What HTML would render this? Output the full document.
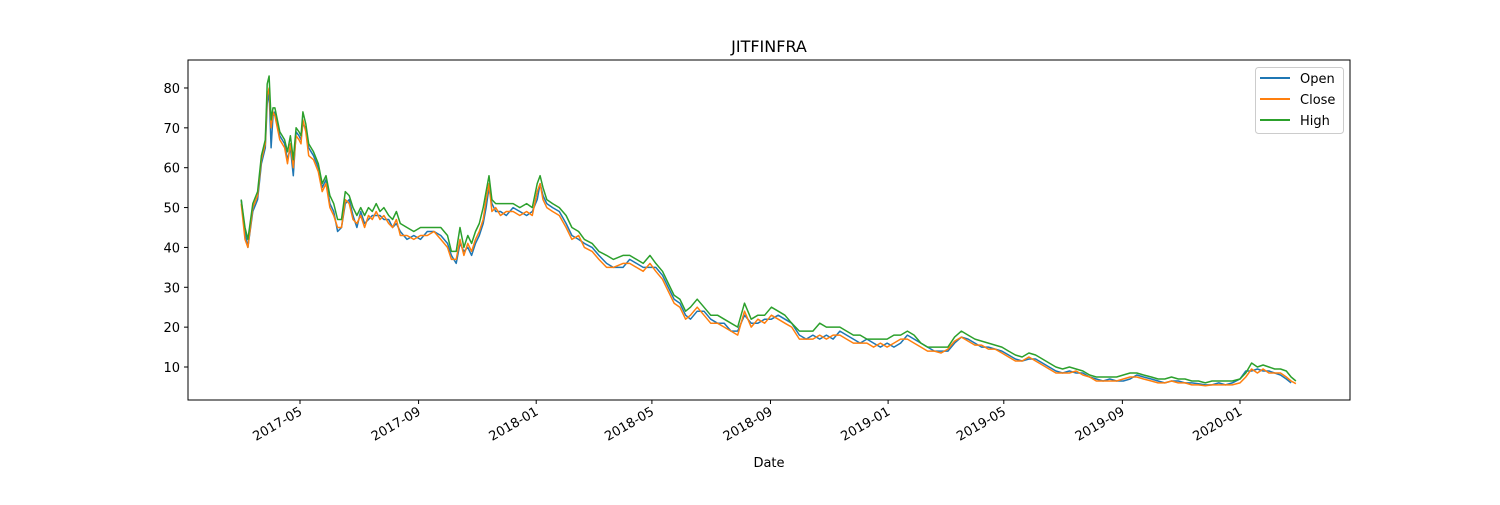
<!DOCTYPE html>
<html><head><meta charset="utf-8"><style>
body{margin:0;background:#fff}
svg text{font-family:"DejaVu Sans","Liberation Sans",sans-serif;fill:#000}
</style></head><body>
<svg id="chart" width="1500" height="500" xmlns="http://www.w3.org/2000/svg">
<rect width="1500" height="500" fill="#fff"/>
<text x="769" y="52" font-size="16" text-anchor="middle">JITFINFRA</text>
<g id="plot"></g>
<rect x="188" y="60" width="1162" height="340" fill="none" stroke="#000" stroke-width="1"/>
<g id="axes"></g>
<text x="769" y="467" font-size="13" text-anchor="middle">Date</text>
<g>
<rect x="1255.5" y="67.5" width="88" height="66" rx="3" fill="#fff" fill-opacity="0.8" stroke="#ccc"/>
<g><line x1="1260" y1="78" x2="1290" y2="78" stroke="#1f77b4" stroke-width="2"/><text x="1300" y="83" font-size="13">Open</text></g>
<g><line x1="1260" y1="99" x2="1290" y2="99" stroke="#ff7f0e" stroke-width="2"/><text x="1300" y="104" font-size="13">Close</text></g>
<g><line x1="1260" y1="120" x2="1290" y2="120" stroke="#2ca02c" stroke-width="2"/><text x="1300" y="125" font-size="13">High</text></g>
</g>
</svg>
<script>
const dates=["2017-03-01","2017-03-05","2017-03-08","2017-03-13","2017-03-18","2017-03-22","2017-03-26","2017-03-28","2017-03-30","2017-04-01","2017-04-03","2017-04-05","2017-04-10","2017-04-15","2017-04-18","2017-04-21","2017-04-24","2017-04-27","2017-04-30","2017-05-02","2017-05-04","2017-05-07","2017-05-10","2017-05-15","2017-05-20","2017-05-24","2017-05-28","2017-06-01","2017-06-05","2017-06-09","2017-06-13","2017-06-17","2017-06-21","2017-06-25","2017-06-29","2017-07-03","2017-07-07","2017-07-11","2017-07-15","2017-07-19","2017-07-23","2017-07-27","2017-08-01","2017-08-05","2017-08-09","2017-08-13","2017-08-20","2017-08-27","2017-09-03","2017-09-10","2017-09-17","2017-09-24","2017-10-01","2017-10-05","2017-10-10","2017-10-14","2017-10-18","2017-10-22","2017-10-26","2017-10-30","2017-11-03","2017-11-07","2017-11-10","2017-11-13","2017-11-16","2017-11-20","2017-11-25","2017-12-01","2017-12-08","2017-12-15","2017-12-22","2017-12-28","2018-01-02","2018-01-05","2018-01-08","2018-01-12","2018-01-18","2018-01-25","2018-02-01","2018-02-07","2018-02-14","2018-02-20","2018-02-28","2018-03-07","2018-03-15","2018-03-22","2018-04-01","2018-04-08","2018-04-15","2018-04-22","2018-04-29","2018-05-05","2018-05-12","2018-05-18","2018-05-24","2018-05-30","2018-06-05","2018-06-10","2018-06-17","2018-06-24","2018-07-01","2018-07-08","2018-07-15","2018-07-22","2018-07-29","2018-08-05","2018-08-12","2018-08-19","2018-08-26","2018-09-02","2018-09-09","2018-09-16","2018-09-23","2018-10-01","2018-10-08","2018-10-15","2018-10-22","2018-10-29","2018-11-05","2018-11-12","2018-11-19","2018-11-26","2018-12-03","2018-12-10","2018-12-17","2018-12-24","2018-12-31","2019-01-07","2019-01-14","2019-01-21","2019-01-28","2019-02-04","2019-02-11","2019-02-18","2019-02-25","2019-03-04","2019-03-11","2019-03-18","2019-03-25","2019-04-01","2019-04-08","2019-04-15","2019-04-22","2019-04-29","2019-05-06","2019-05-13","2019-05-20","2019-05-27","2019-06-03","2019-06-10","2019-06-17","2019-06-24","2019-07-01","2019-07-08","2019-07-15","2019-07-22","2019-07-29","2019-08-05","2019-08-12","2019-08-19","2019-08-26","2019-09-02","2019-09-09","2019-09-16","2019-09-23","2019-10-01","2019-10-08","2019-10-15","2019-10-22","2019-10-29","2019-11-05","2019-11-12","2019-11-19","2019-11-26","2019-12-03","2019-12-10","2019-12-17","2019-12-24","2020-01-01","2020-01-07","2020-01-13","2020-01-19","2020-01-25","2020-01-31","2020-02-06","2020-02-12","2020-02-18","2020-02-23","2020-02-28"];
const closeVals=[51,42,40,50,53,62,66,78,80,70,74,73,67,65,61,66,60,68,67,66,72,69,63,62,59,54,56,50,48,45,45,52,51,47,46,48,45,48,47,49,47,48,46,45,47,43,43,42,43,43,44,42,40,37,37,42,38,41,39,42,44,47,52,56,49,50,48,49,49,48,49,48,54,56,52,50,49,48,45,42,43,40,39,37,35,35,36,36,35,34,36,34,32,29,26,25,22,23,25,23,21,21,20,19,18,24,20,22,21,23,22,21,20,17,17,17,18,17,18,18,17,16,16,16,15,16,15,16,17,17,16,15,14,14,13.5,14.5,16.5,17.5,16.5,15.5,15.5,14.5,14.5,13.5,12.5,11.5,11.5,12.5,11.5,10.5,9.5,8.5,8.5,8.5,9,8,7.5,6.5,6.5,6.5,6.5,7,7.5,7.5,7,6.5,6,6,6.5,6,6,5.5,5.5,5.3,5.5,5.5,5.5,5.5,6,7.5,9.5,8.5,9.5,8.5,8.5,8.5,7.5,6.5,5.8];
const openVals=[52,44,40,49,52,61,65,76,79,65,73,74,68,66,62,65,58,69,68,67,71,70,65,63,60,55,57,51,49,44,45,51,52,48,45,49,46,47,48,48,48,47,47,45,46,44,42,43,42,44,44,43,41,38,36,41,39,40,38,41,43,46,50,55,51,49,49,48,50,49,48,49,52,56,53,51,50,49,46,43,42,41,40,38,36,35,35,37,36,35,35,35,33,30,27,26,23,22,24,24,22,21,21,19,19,23,21,21,22,22,23,22,21,18,17,18,17,18,17,19,18,17,16,17,16,15,16,15,16,18,17,16,15,14,14,14,16,17.5,17,16,15,15,14.5,14,13,12,11.5,12,12,11,10,9,8.5,9,8.5,8.5,7.5,7,6.5,7,6.5,6.5,7,8,7.5,7,6.5,6,6.5,6.5,6,6,5.8,5.5,5.5,6,5.5,6,7,9,9,9.5,9,9,8.5,8,7,6];
const highVals=[52,45,42,51,54,63,67,81,83,72,75,75,69,67,64,68,62,70,69,68,74,71,66,64,61,56,58,53,51,47,47,54,53,50,48,50,48,50,49,51,49,50,48,47,49,46,45,44,45,45,45,45,43,39,39,45,40,43,41,44,46,50,54,58,52,51,51,51,51,50,51,50,56,58,55,52,51,50,48,45,44,42,41,39,38,37,38,38,37,36,38,36,34,31,28,27,24,25,27,25,23,23,22,21,20,26,22,23,23,25,24,23,21,19,19,19,21,20,20,20,19,18,18,17,17,17,17,18,18,19,18,16,15,15,15,15,17.5,19,18,17,16.5,16,15.5,15,14,13,12.5,13.5,13,12,11,10,9.5,10,9.5,9,8,7.5,7.5,7.5,7.5,8,8.5,8.5,8,7.5,7,7,7.5,7,7,6.5,6.5,6,6.5,6.5,6.5,6.5,7,8.5,11,10,10.5,10,9.5,9.5,9,7.5,6.5];
const yTicks=[10,20,30,40,50,60,70,80];
const xTicks=["2017-05","2017-09","2018-01","2018-05","2018-09","2019-01","2019-05","2019-09","2020-01"];

const ms=s=>{const p=s.split("-");return Date.UTC(+p[0],+p[1]-1,p[2]?+p[2]:1);};
const t0=ms("2017-05-01"),t1=ms("2020-01-01");
const X=d=>300+(ms(d)-t0)/(t1-t0)*940;
const Y=v=>367-(v-10)*3.986;
const NS="http://www.w3.org/2000/svg";
const plot=document.getElementById("plot"),axes=document.getElementById("axes");
function mk(tag,attrs,parent){const e=document.createElementNS(NS,tag);for(const k in attrs)e.setAttribute(k,attrs[k]);parent.appendChild(e);return e;}
yTicks.forEach(v=>{
  const y=Y(v);
  const l=mk("line",{x1:184,x2:188,y1:y,y2:y,stroke:"#000"},axes);
  
  
  const t=mk("text",{x:180,y:y+5,"font-size":13,"text-anchor":"end"},axes);
  t.textContent=v;
  
  
});
xTicks.forEach(s=>{
  const x=X(s);
  const l=mk("line",{x1:x,x2:x,y1:400,y2:404,stroke:"#000"},axes);
  
  
  const t=mk("text",{x:x+3,y:414,"font-size":13,"text-anchor":"end",transform:`rotate(-30 ${x+3} 414)`},axes);
  t.textContent=s;
  
  
});
[[openVals,"#1f77b4","line-open"],[closeVals,"#ff7f0e","line-close"],[highVals,"#2ca02c","line-high"]].forEach(([vals,c,n])=>{
  const m=Math.min(vals.length,dates.length);
  let d="";
  for(let i=0;i<m;i++) d+=(i?"L":"M")+X(dates[i]).toFixed(1)+","+Y(vals[i]).toFixed(1);
  const p=mk("path",{d:d,fill:"none",stroke:c,"stroke-width":1.5,"stroke-linejoin":"round"},plot);
  
  
});
</script>
</body></html>
